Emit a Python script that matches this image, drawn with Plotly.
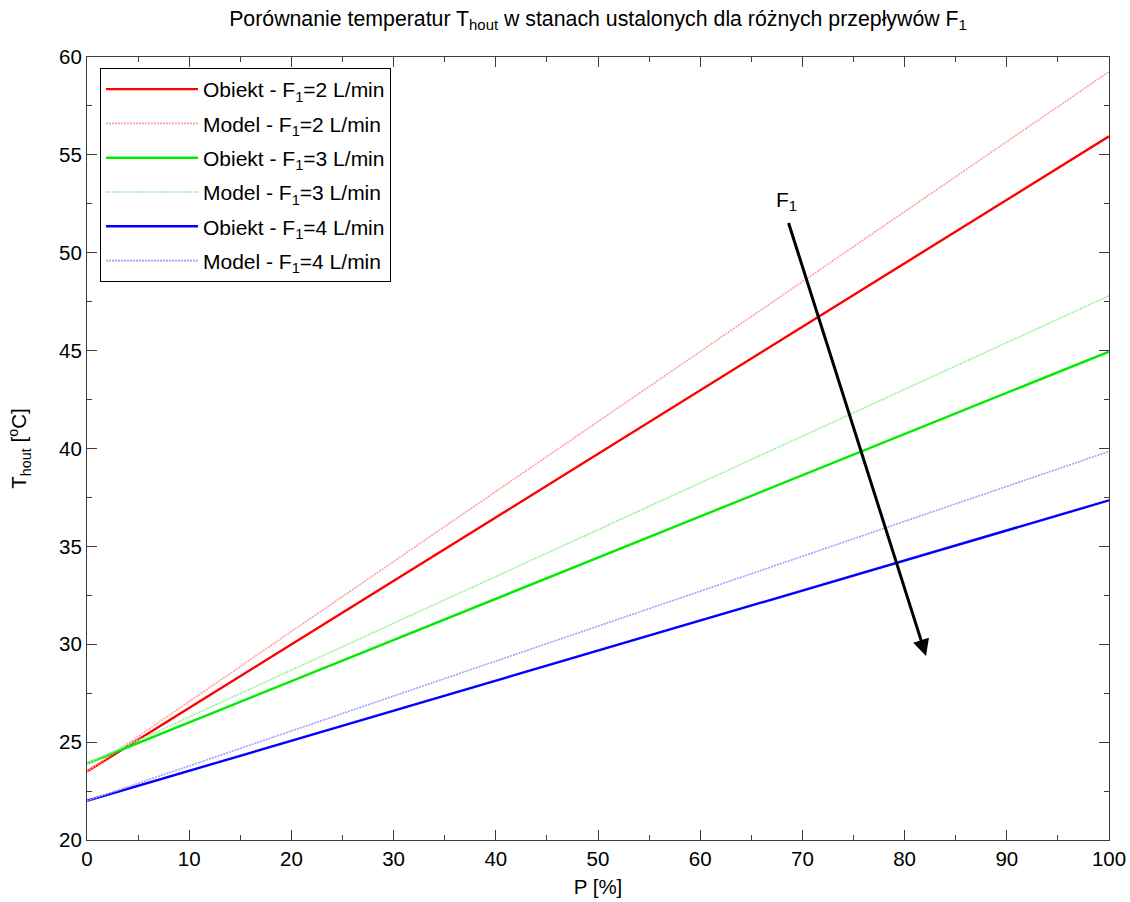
import plotly.graph_objects as go

# Heater power P [%] at the ends of each steady-state characteristic
p_percent = [0, 100]

# Steady-state outlet temperature T_hout [°C] for each flow F1
obiekt_f2 = [23.5, 55.95]
model_f2 = [23.5, 59.25]
obiekt_f3 = [23.9, 44.95]
model_f3 = [23.9, 47.8]
obiekt_f4 = [22.0, 37.35]
model_f4 = [22.0, 39.85]

series = [
    ("Obiekt - F<sub>1</sub>=2 L/min", obiekt_f2, "rgb(255,0,0)", "solid", 2.4),
    ("Model - F<sub>1</sub>=2 L/min", model_f2, "rgb(255,160,160)", "2px,1px", 1.6),
    ("Obiekt - F<sub>1</sub>=3 L/min", obiekt_f3, "rgb(0,235,0)", "solid", 2.4),
    ("Model - F<sub>1</sub>=3 L/min", model_f3, "rgb(150,240,150)", "2px,1px", 1.6),
    ("Obiekt - F<sub>1</sub>=4 L/min", obiekt_f4, "rgb(0,0,255)", "solid", 2.4),
    ("Model - F<sub>1</sub>=4 L/min", model_f4, "rgb(160,160,255)", "2px,1px", 1.6),
]

# Direction of increasing flow
arrow_start = (68.6, 51.6)
arrow_end = (82.1, 29.4)
arrow_label = "F<sub>1</sub>"

FONT = "Liberation Sans, Arial, sans-serif"

fig = go.Figure()
for i, (name, vals, color, dash, width) in enumerate(series):
    fig.add_trace(go.Scatter(
        x=p_percent, y=vals, mode="lines", name=name, legendgroup=f"g{i}",
        line=dict(color=color, dash=dash, width=width),
    ))

fig.add_annotation(
    x=arrow_end[0], y=arrow_end[1], ax=arrow_start[0], ay=arrow_start[1],
    xref="x", yref="y", axref="x", ayref="y",
    showarrow=True, arrowhead=2, arrowsize=1.1, arrowwidth=3,
    arrowcolor="black", text="",
)
fig.add_annotation(
    x=arrow_start[0] - 0.2, y=arrow_start[1] + 0.3, xref="x", yref="y",
    text=arrow_label, showarrow=False, xanchor="center", yanchor="bottom",
    font=dict(family=FONT, size=21, color="black"),
)

axis_common = dict(
    showgrid=False, zeroline=False, showline=True, mirror="ticks",
    linecolor="rgb(60,60,60)", linewidth=1.2, automargin=False,
    ticks="inside", ticklen=10, tickwidth=1.2, tickcolor="rgb(60,60,60)",
    tickfont=dict(family=FONT, size=20.5, color="black"),
)

fig.update_xaxes(
    range=[0, 100], tick0=0, dtick=10,
    minor=dict(ticks="inside", dtick=5, ticklen=5, tickcolor="rgb(60,60,60)", tickwidth=1.2),
    title=dict(text="P [%]", font=dict(family=FONT, size=20.5, color="black"), standoff=10),
    **axis_common,
)
fig.update_yaxes(
    range=[20, 60], tick0=20, dtick=5,
    minor=dict(ticks="inside", dtick=2.5, ticklen=5, tickcolor="rgb(60,60,60)", tickwidth=1.2),
    title=dict(text="T<sub>hout</sub> [<sup>o</sup>C]", font=dict(family=FONT, size=20.5, color="black"), standoff=26),
    **axis_common,
)

fig.update_layout(
    width=1130, height=902,
    margin=dict(l=87, r=21, t=57, b=62),
    paper_bgcolor="white", plot_bgcolor="white",
    title=dict(
        text="Porównanie temperatur T<sub>hout</sub> w stanach ustalonych dla różnych przepływów F<sub>1</sub>",
        xref="paper", x=0.5, xanchor="center", y=0.988, yanchor="top",
        font=dict(family=FONT, size=21.3, color="black"),
    ),
    legend=dict(
        x=0.0127, y=0.986, xanchor="left", yanchor="top",
        bgcolor="white", bordercolor="black", borderwidth=1,
        font=dict(family=FONT, size=21, color="black"),
        tracegroupgap=4, itemwidth=92,
    ),
    showlegend=True,
)

fig.write_html("out.html")
